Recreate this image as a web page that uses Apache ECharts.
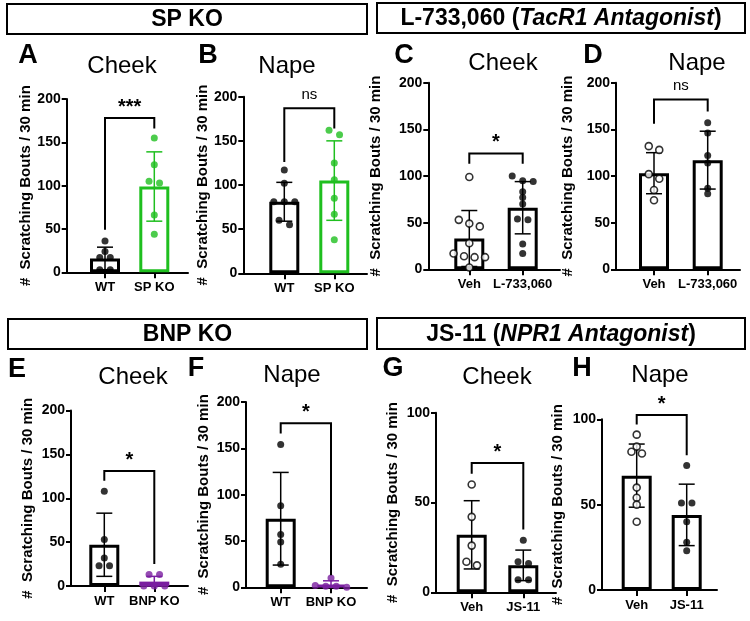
<!DOCTYPE html>
<html lang="en">
<head>
<meta charset="UTF-8">
<title>Scratching bouts</title>
<script src="https://cdn.jsdelivr.net/npm/echarts@6/dist/echarts.min.js"></script>
<style>
  html, body { margin: 0; padding: 0; background: #fff; }
  #main { width: 750px; height: 621px; }
</style>
</head>
<body>
<div id="main"></div>
<script>
// ---- data ----
var catsSp = ['WT', 'SP KO'];
var catsL = ['Veh', 'L-733,060'];
var catsBnp = ['WT', 'BNP KO'];
var catsJs = ['Veh', 'JS-11'];

var ticks200 = [0, 50, 100, 150, 200];
var ticks100 = [0, 50, 100];

// A  SP KO cheek
var ptsA = [[36, 24, 17, 17, 3, 3], [155, 124, 105, 103, 66, 44]];
var meanA = [16, 99];
var sdA = [13, 40];
// B  SP KO nape
var ptsB = [[117, 102, 81, 81, 81, 60, 55], [162, 157, 125, 106, 85, 67, 38]];
var meanB = [81, 105];
var sdB = [22, 45];
// C  L-733,060 cheek
var ptsC = [[99, 53, 49, 46, 28, 17, 14, 13, 13, 2], [100, 95, 94, 83, 77, 70, 54, 53, 27, 17]];
var meanC = [33, 66];
var sdC = [30, 28];
// D  L-733,060 nape
var ptsD = [[132, 128, 102, 97, 85, 74], [157, 146, 122, 114, 87, 81]];
var meanD = [103, 117];
var sdD = [22, 31];
// E  BNP KO cheek
var ptsE = [[108, 53, 32, 23, 23], [13, 13, 0, 0, 0]];
var meanE = [47, 5];
var sdE = [36, 6];
// F  BNP KO nape
var ptsF = [[154, 88, 57, 49, 25], [10, 2, 1, 1, 0]];
var meanF = [74, 3];
var sdF = [50, 4];
// G  JS-11 cheek
var ptsG = [[60, 42, 26, 17, 15], [29, 17, 16, 7, 7]];
var meanG = [32, 15];
var sdG = [19, 8.5];
// H  JS-11 nape
var ptsH = [[91, 84, 81, 80, 60, 54, 50, 40], [73, 51, 51, 40, 28, 23]];
var meanH = [67, 44];
var sdH = [18.5, 18];

// significance brackets: [top, left leg end, right leg end]
var sigA = '***', brA = [178, 49, 166];
var sigB = 'ns', brB = [187, 126, 164];
var sigC = '*', brC = [124, 113, 113];
var sigD = 'ns', brD = [182, 156, 169];
var sigE = '*', brE = [131, 120, 25];
var sigF = '*', brF = [177, 166, 13];
var sigG = '*', brG = [72, 66, 35];
var sigH = '*', brH = [102.5, 97, 79];

// ---- styling / layout ----
var FONT = "'Liberation Sans', Arial, sans-serif";
var GREEN = '#1fbf1f';
var PURPLE = '#7a1fa0';

var panels = [
  {letter: 'A', sub: 'Cheek', cats: catsSp, pts: ptsA, mean: meanA, sd: sdA, ticks: ticks200, sig: sigA, br: brA,
   colors: ['#000', GREEN], open: [false, false],
   left: 66.7, right: 188, c0: 105, c1: 154.3, top: 99, bottom: 272.3, gap: 32, lp: [28, 56], sp: [122, 66]},
  {letter: 'B', sub: 'Nape', cats: catsSp, pts: ptsB, mean: meanB, sd: sdB, ticks: ticks200, sig: sigB, br: brB,
   colors: ['#000', GREEN], open: [false, false],
   left: 243.3, right: 367, c0: 284.3, c1: 334.3, top: 96.7, bottom: 273.3, gap: 30, lp: [208, 56], sp: [287, 66]},
  {letter: 'C', sub: 'Cheek', cats: catsL, pts: ptsC, mean: meanC, sd: sdC, ticks: ticks200, sig: sigC, br: brC,
   colors: ['#000', '#000'], open: [true, false],
   left: 428.3, right: 560, c0: 469.3, c1: 522.7, top: 82.7, bottom: 269.3, gap: 45, lp: [404, 56], sp: [503, 63]},
  {letter: 'D', sub: 'Nape', cats: catsL, pts: ptsD, mean: meanD, sd: sdD, ticks: ticks200, sig: sigD, br: brD,
   colors: ['#000', '#000'], open: [true, false],
   left: 616, right: 740, c0: 654, c1: 707.7, top: 82.7, bottom: 269.3, gap: 41, lp: [593, 56], sp: [697, 63]},
  {letter: 'E', sub: 'Cheek', cats: catsBnp, pts: ptsE, mean: meanE, sd: sdE, ticks: ticks200, sig: sigE, br: brE,
   colors: ['#000', PURPLE], open: [false, false],
   left: 71, right: 188, c0: 104.3, c1: 154.3, top: 410.5, bottom: 586, gap: 36, lp: [17, 370], sp: [133, 377]},
  {letter: 'F', sub: 'Nape', cats: catsBnp, pts: ptsF, mean: meanF, sd: sdF, ticks: ticks200, sig: sigF, br: brF,
   colors: ['#000', PURPLE], open: [false, false],
   left: 246, right: 367, c0: 280.7, c1: 331, top: 402, bottom: 587.3, gap: 35, lp: [196, 369], sp: [292, 375]},
  {letter: 'G', sub: 'Cheek', cats: catsJs, pts: ptsG, mean: meanG, sd: sdG, ticks: ticks100, sig: sigG, br: brG,
   colors: ['#000', '#000'], open: [true, false],
   left: 436, right: 556, c0: 471.7, c1: 523.3, top: 412.7, bottom: 592.3, gap: 36, lp: [393, 369], sp: [497, 377]},
  {letter: 'H', sub: 'Nape', cats: catsJs, pts: ptsH, mean: meanH, sd: sdH, ticks: ticks100, sig: sigH, br: brH,
   colors: ['#000', '#000'], open: [true, false],
   left: 602, right: 717, c0: 636.7, c1: 686.7, top: 419.3, bottom: 590, gap: 37, lp: [582, 369], sp: [660, 375]}
];

// spread points with near-equal values side by side (like a column scatter)
function swarm(vals, thr) {
  var idx = vals.map(function (v, i) { return i; }).sort(function (a, b) { return vals[b] - vals[a]; });
  var slots = [];
  var cluster = [idx[0]];
  function flush() {
    cluster.forEach(function (k, n) { slots[k] = n - (cluster.length - 1) / 2; });
  }
  for (var n = 1; n < idx.length; n++) {
    var k = idx[n];
    var prev = cluster[cluster.length - 1];
    if (vals[prev] - vals[k] < thr) cluster.push(k);
    else { flush(); cluster = [k]; }
  }
  flush();
  return slots;
}

var grids = [], xAxes = [], yAxes = [], series = [], graphics = [];

panels.forEach(function (p, i) {
  var band = p.c1 - p.c0;
  var ymax = p.ticks[p.ticks.length - 1];
  grids.push({left: p.left, top: p.top, width: p.right - p.left, height: p.bottom - p.top});
  xAxes.push({
    gridIndex: i, type: 'value',
    min: -(p.c0 - p.left) / band, max: (p.right - p.c0) / band,
    axisLine: {show: true, onZero: false, lineStyle: {color: '#000', width: 2}},
    axisTick: {show: true, customValues: [0, 1], length: 6, lineStyle: {color: '#000', width: 2}},
    axisLabel: {show: true, customValues: [0, 1], margin: 9, color: '#000', fontWeight: 'bold', fontSize: 13, fontFamily: FONT,
      formatter: (function (cats) { return function (v) { return cats[Math.round(v)]; }; })(p.cats)},
    splitLine: {show: false}
  });
  yAxes.push({
    gridIndex: i, type: 'value', min: 0, max: ymax, interval: 50,
    name: '#  Scratching Bouts / 30 min', nameLocation: 'middle', nameGap: p.gap,
    nameTextStyle: {color: '#000', fontWeight: 'bold', fontSize: 15, fontFamily: FONT},
    axisLine: {show: true, onZero: false, lineStyle: {color: '#000', width: 2}},
    axisTick: {show: true, length: 5, lineStyle: {color: '#000', width: 2}},
    axisLabel: {color: '#000', fontWeight: 'bold', fontSize: 14, fontFamily: FONT, margin: 6},
    splitLine: {show: false}
  });

  // bars
  series.push({
    type: 'bar', xAxisIndex: i, yAxisIndex: i, barWidth: 30, z: 2,
    data: p.mean.map(function (m, j) {
      return {value: [j, m], itemStyle: {color: '#fff', borderColor: p.colors[j], borderWidth: 3}};
    })
  });

  // error bars
  series.push({
    type: 'custom', xAxisIndex: i, yAxisIndex: i, z: 3,
    data: p.mean.map(function (m, j) { return [j, Math.max(0, m - p.sd[j]), m + p.sd[j]]; }),
    renderItem: (function (colors) {
      return function (params, api) {
        var j = api.value(0);
        var lo = api.coord([j, api.value(1)]);
        var hi = api.coord([j, api.value(2)]);
        var st = {stroke: colors[j], lineWidth: 1.5};
        var w = 8;
        return {type: 'group', children: [
          {type: 'line', shape: {x1: lo[0], y1: lo[1], x2: hi[0], y2: hi[1]}, style: st},
          {type: 'line', shape: {x1: hi[0] - w, y1: hi[1], x2: hi[0] + w, y2: hi[1]}, style: st},
          {type: 'line', shape: {x1: lo[0] - w, y1: lo[1], x2: lo[0] + w, y2: lo[1]}, style: st}
        ]};
      };
    })(p.colors)
  });

  // individual animals
  var dots = [];
  p.pts.forEach(function (vals, j) {
    var slots = swarm(vals, ymax * 0.03);
    vals.forEach(function (v, n) {
      dots.push({
        value: [j, v],
        symbolOffset: [slots[n] * 10.5, 0],
        itemStyle: p.open[j]
          ? {color: '#fff', borderColor: '#000', borderWidth: 1.6}
          : {color: p.colors[j], borderWidth: 0}
      });
    });
  });
  series.push({
    type: 'scatter', xAxisIndex: i, yAxisIndex: i, z: 4, symbol: 'circle', symbolSize: 7,
    data: dots
  });

  // significance bracket
  series.push({
    type: 'custom', xAxisIndex: i, yAxisIndex: i, z: 5,
    data: [p.br],
    renderItem: (function (sig) {
      return function (params, api) {
        var top = api.value(0);
        var a = api.coord([0, top]), b = api.coord([1, top]);
        var la = api.coord([0, api.value(1)]), lb = api.coord([1, api.value(2)]);
        var isNs = sig === 'ns';
        return {type: 'group', children: [
          {type: 'polyline', shape: {points: [[la[0], la[1]], [a[0], a[1]], [b[0], b[1]], [lb[0], lb[1]]]},
           style: {stroke: '#000', lineWidth: 2, fill: null}},
          {type: 'text', x: (a[0] + b[0]) / 2, y: a[1] - (isNs ? 6 : 1),
           style: {text: sig, align: 'center', verticalAlign: 'bottom', fill: '#000',
             font: (isNs ? 'normal 15px ' : 'bold 20px ') + FONT}}
        ]};
      };
    })(p.sig)
  });

  graphics.push({type: 'text', x: p.lp[0], y: p.lp[1],
    style: {text: p.letter, align: 'center', verticalAlign: 'middle', fill: '#000', font: 'bold 27px ' + FONT}});
  graphics.push({type: 'text', x: p.sp[0], y: p.sp[1],
    style: {text: p.sub, align: 'center', verticalAlign: 'middle', fill: '#000', font: 'normal 24px ' + FONT}});
});

// section headers
var headers = [
  {box: [7, 4, 360, 30], text: '{b|SP KO}'},
  {box: [377, 3, 368, 30], text: '{b|L-733,060 (}{i|TacR1 Antagonist}{b|)}'},
  {box: [8, 319, 359, 30], text: '{b|BNP KO}'},
  {box: [377, 318, 368, 31], text: '{b|JS-11 (}{i|NPR1 Antagonist}{b|)}'}
];
headers.forEach(function (h) {
  graphics.push({type: 'rect', shape: {x: h.box[0], y: h.box[1], width: h.box[2], height: h.box[3]},
    style: {fill: '#fff', stroke: '#000', lineWidth: 2}});
  graphics.push({type: 'text', x: h.box[0] + h.box[2] / 2, y: h.box[1] + h.box[3] / 2 + 1,
    style: {text: h.text, align: 'center', verticalAlign: 'middle', fill: '#000',
      rich: {
        b: {fontWeight: 'bold', fontSize: 23, fontFamily: FONT, fill: '#000'},
        i: {fontWeight: 'bold', fontStyle: 'italic', fontSize: 23, fontFamily: FONT, fill: '#000'}
      }}});
});

var chart = echarts.init(document.getElementById('main'), null, {renderer: 'canvas'});
chart.setOption({
  backgroundColor: '#fff',
  animation: false,
  grid: grids,
  xAxis: xAxes,
  yAxis: yAxes,
  series: series,
  graphic: graphics
});
</script>
</body>
</html>
